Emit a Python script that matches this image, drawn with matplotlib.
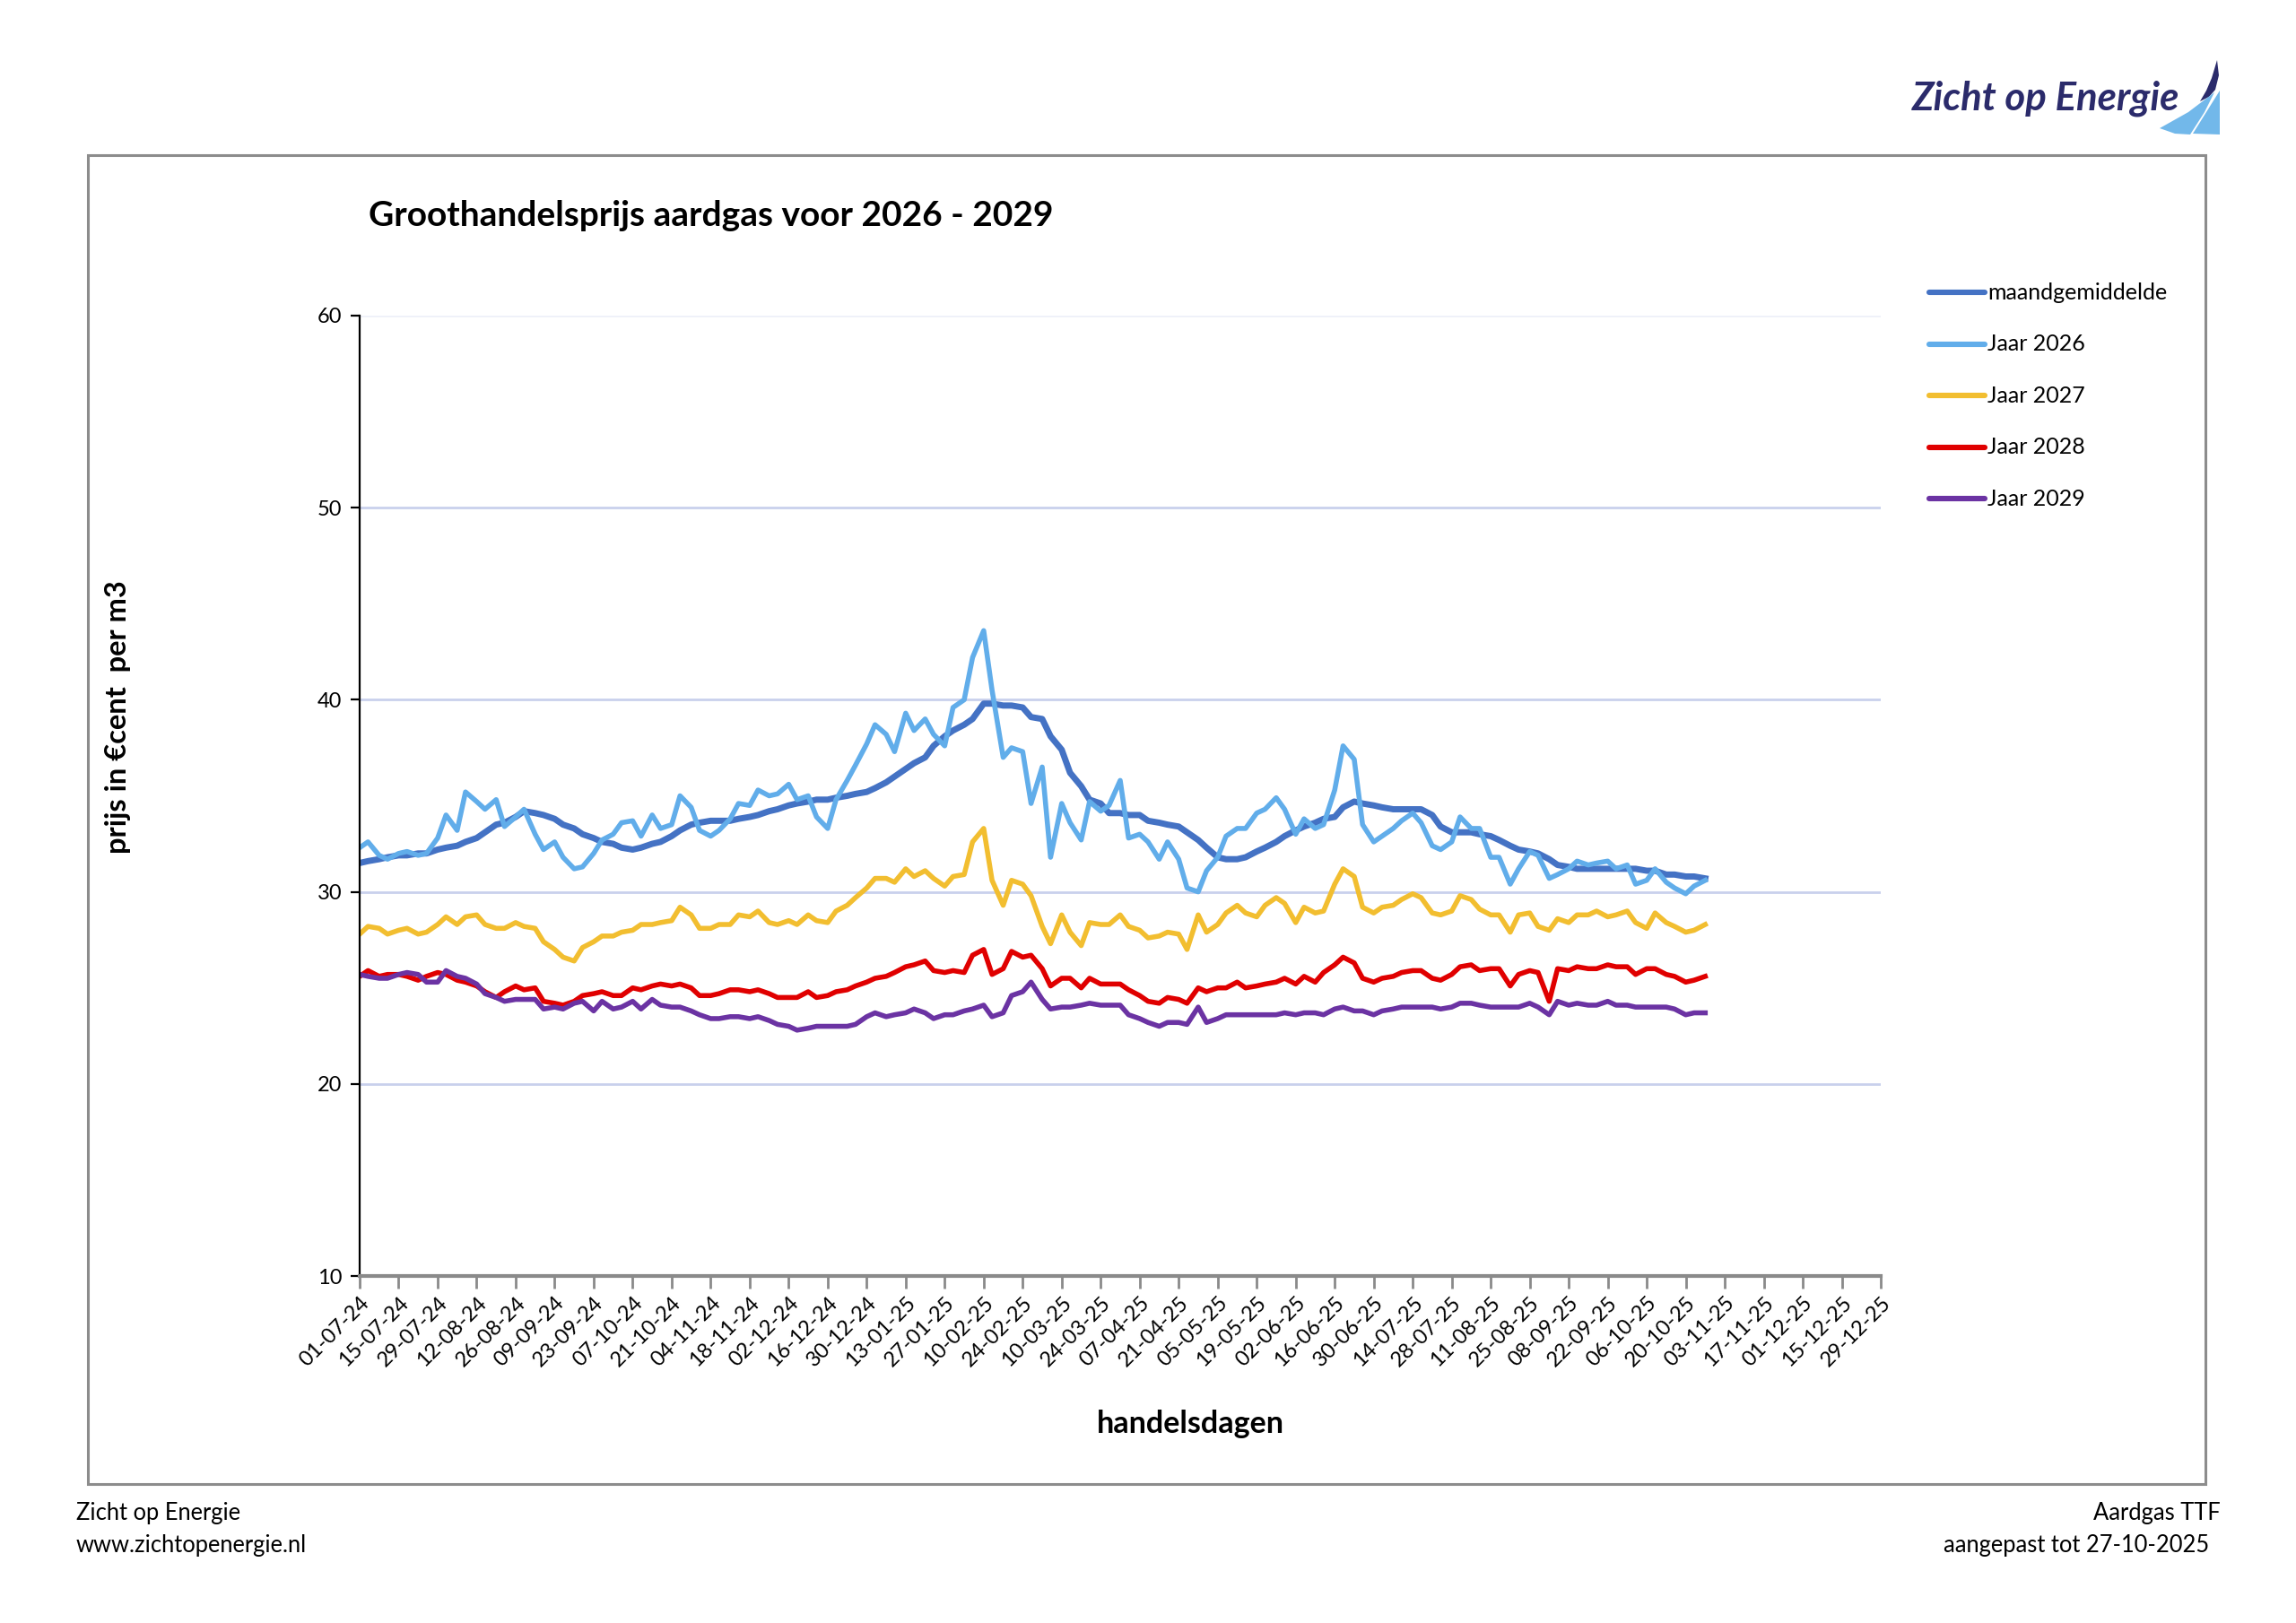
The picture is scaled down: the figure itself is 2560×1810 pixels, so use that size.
import numpy as np
import pandas as pd
import matplotlib
matplotlib.use('Agg')
import matplotlib.pyplot as plt
import matplotlib.dates as mdates
from matplotlib.patches import Rectangle, Polygon
from matplotlib.lines import Line2D

plt.rcParams['font.family'] = ['Lato', 'DejaVu Sans']

W, H = 2560, 1810

# sample dates (Mondays and Thursdays)
mondays = pd.date_range('2024-07-01', '2025-10-27', freq='W-MON')
thursdays = pd.date_range('2024-07-04', '2025-10-23', freq='W-THU')
dates = mondays.union(thursdays)

maandgemiddelde = [
    31.5, 31.6, 31.7, 31.8, 31.9, 31.9, 32.0, 32.0, 32.2, 32.3,
    32.4, 32.6, 32.8, 33.1, 33.5, 33.6, 33.9, 34.2, 34.1, 34.0,
    33.8, 33.5, 33.3, 33.0, 32.8, 32.6, 32.5, 32.3, 32.2, 32.3,
    32.5, 32.6, 32.9, 33.2, 33.5, 33.6, 33.7, 33.7, 33.7, 33.8,
    33.9, 34.0, 34.2, 34.3, 34.5, 34.6, 34.7, 34.8, 34.8, 34.9,
    35.0, 35.1, 35.2, 35.4, 35.7, 36.0, 36.4, 36.7, 37.0, 37.6,
    38.1, 38.4, 38.7, 39.0, 39.8, 39.8, 39.7, 39.7, 39.6, 39.1,
    39.0, 38.1, 37.4, 36.2, 35.5, 34.8, 34.6, 34.1, 34.1, 34.0,
    34.0, 33.7, 33.6, 33.5, 33.4, 33.1, 32.7, 32.3, 31.8, 31.7,
    31.7, 31.8, 32.1, 32.3, 32.6, 32.9, 33.2, 33.4, 33.6, 33.8,
    33.9, 34.4, 34.7, 34.6, 34.5, 34.4, 34.3, 34.3, 34.3, 34.3,
    34.0, 33.4, 33.1, 33.1, 33.1, 33.0, 32.9, 32.7, 32.4, 32.2,
    32.1, 32.0, 31.7, 31.4, 31.3, 31.2, 31.2, 31.2, 31.2, 31.2,
    31.2, 31.2, 31.1, 31.1, 30.9, 30.9, 30.8, 30.8, 30.7]

jaar_2026 = [
    32.3, 32.6, 31.9, 31.7, 32.0, 32.1, 31.9, 32.0, 32.8, 34.0,
    33.2, 35.2, 34.7, 34.3, 34.8, 33.4, 33.9, 34.3, 33.0, 32.2,
    32.6, 31.8, 31.2, 31.3, 32.0, 32.7, 33.0, 33.6, 33.7, 32.9,
    34.0, 33.3, 33.5, 35.0, 34.4, 33.2, 32.9, 33.2, 33.8, 34.6,
    34.5, 35.3, 35.0, 35.1, 35.6, 34.8, 35.0, 33.9, 33.3, 34.8,
    35.8, 36.6, 37.7, 38.7, 38.2, 37.3, 39.3, 38.4, 39.0, 38.2,
    37.6, 39.6, 40.0, 42.2, 43.6, 40.5, 37.0, 37.5, 37.3, 34.6,
    36.5, 31.8, 34.6, 33.6, 32.7, 34.7, 34.2, 34.5, 35.8, 32.8,
    33.0, 32.6, 31.7, 32.6, 31.7, 30.2, 30.0, 31.1, 31.8, 32.9,
    33.3, 33.3, 34.1, 34.3, 34.9, 34.3, 33.0, 33.8, 33.3, 33.5,
    35.3, 37.6, 36.9, 33.5, 32.6, 32.9, 33.3, 33.7, 34.1, 33.6,
    32.4, 32.2, 32.6, 33.9, 33.3, 33.3, 31.8, 31.8, 30.4, 31.2,
    32.1, 31.9, 30.7, 30.9, 31.2, 31.6, 31.4, 31.5, 31.6, 31.2,
    31.4, 30.4, 30.6, 31.2, 30.5, 30.2, 29.9, 30.3, 30.6]

jaar_2027 = [
    27.8, 28.2, 28.1, 27.8, 28.0, 28.1, 27.8, 27.9, 28.3, 28.7,
    28.3, 28.7, 28.8, 28.3, 28.1, 28.1, 28.4, 28.2, 28.1, 27.4,
    27.0, 26.6, 26.4, 27.1, 27.4, 27.7, 27.7, 27.9, 28.0, 28.3,
    28.3, 28.4, 28.5, 29.2, 28.8, 28.1, 28.1, 28.3, 28.3, 28.8,
    28.7, 29.0, 28.4, 28.3, 28.5, 28.3, 28.8, 28.5, 28.4, 29.0,
    29.3, 29.7, 30.2, 30.7, 30.7, 30.5, 31.2, 30.8, 31.1, 30.7,
    30.3, 30.8, 30.9, 32.6, 33.3, 30.6, 29.3, 30.6, 30.4, 29.8,
    28.2, 27.3, 28.8, 27.9, 27.2, 28.4, 28.3, 28.3, 28.8, 28.2,
    28.0, 27.6, 27.7, 27.9, 27.8, 27.0, 28.8, 27.9, 28.3, 28.9,
    29.3, 28.9, 28.7, 29.3, 29.7, 29.4, 28.4, 29.2, 28.9, 29.0,
    30.4, 31.2, 30.8, 29.2, 28.9, 29.2, 29.3, 29.6, 29.9, 29.7,
    28.9, 28.8, 29.0, 29.8, 29.6, 29.1, 28.8, 28.8, 27.9, 28.8,
    28.9, 28.2, 28.0, 28.6, 28.4, 28.8, 28.8, 29.0, 28.7, 28.8,
    29.0, 28.4, 28.1, 28.9, 28.4, 28.2, 27.9, 28.0, 28.3]

jaar_2028 = [
    25.6, 25.9, 25.6, 25.7, 25.7, 25.6, 25.4, 25.6, 25.8, 25.7,
    25.4, 25.3, 25.1, 24.8, 24.5, 24.8, 25.1, 24.9, 25.0, 24.3,
    24.2, 24.1, 24.3, 24.6, 24.7, 24.8, 24.6, 24.6, 25.0, 24.9,
    25.1, 25.2, 25.1, 25.2, 25.0, 24.6, 24.6, 24.7, 24.9, 24.9,
    24.8, 24.9, 24.7, 24.5, 24.5, 24.5, 24.8, 24.5, 24.6, 24.8,
    24.9, 25.1, 25.3, 25.5, 25.6, 25.8, 26.1, 26.2, 26.4, 25.9,
    25.8, 25.9, 25.8, 26.7, 27.0, 25.7, 26.0, 26.9, 26.6, 26.7,
    26.0, 25.1, 25.5, 25.5, 25.0, 25.5, 25.2, 25.2, 25.2, 24.9,
    24.6, 24.3, 24.2, 24.5, 24.4, 24.2, 25.0, 24.8, 25.0, 25.0,
    25.3, 25.0, 25.1, 25.2, 25.3, 25.5, 25.2, 25.6, 25.3, 25.8,
    26.2, 26.6, 26.3, 25.5, 25.3, 25.5, 25.6, 25.8, 25.9, 25.9,
    25.5, 25.4, 25.7, 26.1, 26.2, 25.9, 26.0, 26.0, 25.1, 25.7,
    25.9, 25.8, 24.3, 26.0, 25.9, 26.1, 26.0, 26.0, 26.2, 26.1,
    26.1, 25.7, 26.0, 26.0, 25.7, 25.6, 25.3, 25.4, 25.6]

jaar_2029 = [
    25.7, 25.6, 25.5, 25.5, 25.7, 25.8, 25.7, 25.3, 25.3, 25.9,
    25.6, 25.5, 25.2, 24.7, 24.5, 24.3, 24.4, 24.4, 24.4, 23.9,
    24.0, 23.9, 24.2, 24.3, 23.8, 24.3, 23.9, 24.0, 24.3, 23.9,
    24.4, 24.1, 24.0, 24.0, 23.8, 23.6, 23.4, 23.4, 23.5, 23.5,
    23.4, 23.5, 23.3, 23.1, 23.0, 22.8, 22.9, 23.0, 23.0, 23.0,
    23.0, 23.1, 23.5, 23.7, 23.5, 23.6, 23.7, 23.9, 23.7, 23.4,
    23.6, 23.6, 23.8, 23.9, 24.1, 23.5, 23.7, 24.6, 24.8, 25.3,
    24.4, 23.9, 24.0, 24.0, 24.1, 24.2, 24.1, 24.1, 24.1, 23.6,
    23.4, 23.2, 23.0, 23.2, 23.2, 23.1, 24.0, 23.2, 23.4, 23.6,
    23.6, 23.6, 23.6, 23.6, 23.6, 23.7, 23.6, 23.7, 23.7, 23.6,
    23.9, 24.0, 23.8, 23.8, 23.6, 23.8, 23.9, 24.0, 24.0, 24.0,
    24.0, 23.9, 24.0, 24.2, 24.2, 24.1, 24.0, 24.0, 24.0, 24.0,
    24.2, 24.0, 23.6, 24.3, 24.1, 24.2, 24.1, 24.1, 24.3, 24.1,
    24.1, 24.0, 24.0, 24.0, 24.0, 23.9, 23.6, 23.7, 23.7]

series = [
    ('maandgemiddelde', maandgemiddelde, '#4472C4', 5.0),
    ('Jaar 2026', jaar_2026, '#61ADEA', 4.0),
    ('Jaar 2027', jaar_2027, '#F2BE30', 4.0),
    ('Jaar 2028', jaar_2028, '#E00000', 4.0),
    ('Jaar 2029', jaar_2029, '#6B33A3', 4.0),
]

tick_dates = pd.date_range('2024-07-01', '2025-12-29', freq='14D')


def fx(x):
    return x / W


def fy(y):
    return 1 - y / H


fig = plt.figure(figsize=(W / 100, H / 100), dpi=100)

# outer frame
fig.add_artist(Rectangle((fx(98), fy(1655)), (2459 - 98) / W, (1655 - 173) / H,
                         transform=fig.transFigure, fill=False,
                         edgecolor='#8c8c8c', lw=2.2))

ax = fig.add_axes([fx(401), fy(1423), (2097 - 401) / W, (1423 - 352) / H])

for name, vals, col, lw in series:
    ax.plot(dates, vals, color=col, lw=lw, label=name, solid_joinstyle='round')

ax.set_ylim(10, 60)
ax.set_yticks(np.arange(10, 61, 10))
ax.set_xlim(tick_dates[0], tick_dates[-1])
ax.set_xticks(tick_dates)
ax.xaxis.set_major_formatter(mdates.DateFormatter('%d-%m-%y'))
ax.yaxis.grid(True, color='#c9d0ec', lw=2)
ax.get_ygridlines()[-1].set_color('#eff1f9')
ax.set_axisbelow(True)

for s in ['top', 'right']:
    ax.spines[s].set_visible(False)
ax.spines['left'].set_color('black')
ax.spines['left'].set_linewidth(1.6)
ax.spines['bottom'].set_color('#8a8a8a')
ax.spines['bottom'].set_linewidth(3)
ax.tick_params(axis='y', length=7, width=1.6, color='black', labelsize=17, pad=7)
ax.tick_params(axis='x', length=10, width=2, color='#8a8a8a', labelsize=17, pad=4)
for lbl in ax.get_xticklabels():
    lbl.set_rotation(45)
    lbl.set_ha('right')
    lbl.set_va('top')
    lbl.set_rotation_mode('anchor')

# titles and axis labels
fig.text(fx(411), fy(240), 'Groothandelsprijs aardgas voor 2026 - 2029',
         fontsize=28, fontweight='bold', va='center', ha='left')
fig.text(fx(131), fy(800), 'prijs in €cent  per m3', rotation=90,
         fontsize=23.5, fontweight='bold', va='center', ha='center')
fig.text(fx(1327), fy(1588), 'handelsdagen', fontsize=24.5,
         fontweight='bold', va='center', ha='center')

# legend drawn at fixed spots, right of the axes
for i, (name, vals, col, lw) in enumerate(series):
    y = fy(326 + i * 57.6)
    fig.add_artist(Line2D([fx(2151), fx(2213)], [y, y], color=col, lw=4.4,
                          solid_capstyle='round', transform=fig.transFigure))
    fig.text(fx(2216), y, name, fontsize=18, va='center', ha='left')

# footers
fig.text(fx(85), fy(1687), 'Zicht op Energie', fontsize=18.4, va='center')
fig.text(fx(85), fy(1723), 'www.zichtopenergie.nl', fontsize=18.4, va='center')
fig.text(fx(2476), fy(1687), 'Aardgas TTF', fontsize=18.4, va='center', ha='right')
fig.text(fx(2463), fy(1723), 'aangepast tot 27-10-2025', fontsize=18.4,
         va='center', ha='right')

# logo
fig.text(fx(2132), fy(122), 'Zicht op Energie', fontsize=31.5, style='italic',
         fontweight='bold', color='#2B2B6B', va='baseline', ha='left')
dark_sail = [(2472, 67), (2474, 84), (2470, 100), (2463, 108), (2453, 113),
             (2460, 101), (2466, 87)]
light_sail_1 = [(2408, 143), (2440, 125), (2469, 103), (2458, 125), (2442, 150),
                (2425, 149)]
light_sail_2 = [(2445, 149), (2475, 101), (2475, 150)]
for pts, col in [(dark_sail, '#2B2B6B'), (light_sail_1, '#72B8EA'),
                 (light_sail_2, '#72B8EA')]:
    fig.add_artist(Polygon([(fx(x), fy(y)) for x, y in pts], closed=True,
                           transform=fig.transFigure, facecolor=col,
                           edgecolor='none'))

fig.savefig('out.png', dpi=100, facecolor='white')
